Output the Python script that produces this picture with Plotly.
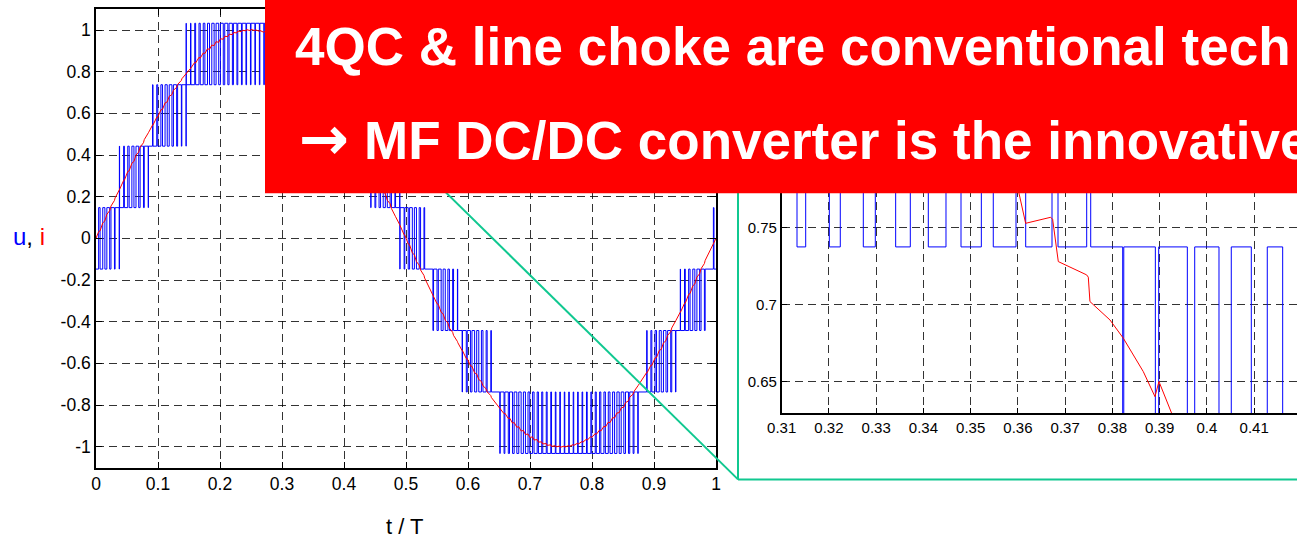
import plotly.graph_objects as go

W, H = 1297, 535

# Converter voltage levels (p.u.) and the switching instants of u(t).
levels = [-1.0325, -0.7375, -0.4425, -0.1475, 0.1475, 0.4425, 0.7375, 1.0325]

# switching instant t/T, level index after the switch, line current i at that instant
u_t = [
    0.0, 0.00424, 0.00660, 0.01087, 0.01433, 0.01750, 0.02206, 0.02414, 0.02978, 0.03077,
    0.03751, 0.03773, 0.03805, 0.04459, 0.04577, 0.05123, 0.05348, 0.05788, 0.06119, 0.06453,
    0.06889, 0.07119, 0.07658, 0.07786, 0.08426, 0.08454, 0.09123, 0.09193, 0.09793, 0.09959,
    0.10465, 0.10723, 0.11138, 0.11487, 0.11812, 0.12248, 0.12488, 0.13008, 0.13165, 0.13767,
    0.13844, 0.14524, 0.14543, 0.14561, 0.15243, 0.15314, 0.15926, 0.16066, 0.16611, 0.16815,
    0.17297, 0.17562, 0.17986, 0.18307, 0.18677, 0.19050, 0.19370, 0.19791, 0.20065, 0.20529,
    0.20763, 0.21265, 0.21463, 0.21999, 0.22165, 0.22730, 0.22870, 0.23459, 0.23577, 0.24186,
    0.24286, 0.24910, 0.24998, 0.25631, 0.25713, 0.26350, 0.26430, 0.27067, 0.27149, 0.27781,
    0.27871, 0.28493, 0.28595, 0.29202, 0.29322, 0.29909, 0.30051, 0.30613, 0.30783, 0.31324,
    0.31508, 0.32008, 0.32240, 0.32727, 0.32981, 0.33412, 0.33722, 0.34103, 0.34477, 0.34795,
    0.35225, 0.35478, 0.35959, 0.36164, 0.36721, 0.36848, 0.37455, 0.37540, 0.38217, 0.38240,
    0.38908, 0.38979, 0.39585, 0.39741, 0.40255, 0.40515, 0.40939, 0.41277, 0.41603, 0.42062,
    0.42310, 0.42827, 0.42981, 0.43593, 0.43651, 0.44320, 0.44360, 0.44988, 0.45128, 0.45655,
    0.45897, 0.46321, 0.46667, 0.46986, 0.47438, 0.47651, 0.48209, 0.48315, 0.48981, 0.49007,
    0.49035, 0.49697, 0.49808, 0.50360, 0.50581, 0.51023, 0.51354, 0.51686, 0.52126, 0.52350,
    0.52899, 0.53013, 0.54340, 0.54444, 0.55005, 0.55215, 0.55670, 0.55986, 0.56335, 0.56757,
    0.57002, 0.57526, 0.57669, 0.58295, 0.58341, 0.59055, 0.59111, 0.59725, 0.59877, 0.60395,
    0.60641, 0.61067, 0.61404, 0.61740, 0.62165, 0.62415, 0.62924, 0.63092, 0.63682, 0.63770,
    0.65131, 0.65193, 0.65815, 0.65946, 0.66500, 0.66696, 0.67187, 0.67445, 0.67877, 0.68191,
    0.68569, 0.68935, 0.69263, 0.69678, 0.69959, 0.70417, 0.70657, 0.71155, 0.71358, 0.71890,
    0.72061, 0.72623, 0.72767, 0.73354, 0.73474, 0.74082, 0.74185, 0.74807, 0.74898, 0.75530,
    0.75613, 0.76251, 0.76331, 0.76969, 0.77051, 0.77685, 0.77774, 0.78398, 0.78499, 0.79109,
    0.79227, 0.79817, 0.79957, 0.80523, 0.80689, 0.81227, 0.81424, 0.81928, 0.82161, 0.82627,
    0.82901, 0.83323, 0.83643, 0.84018, 0.84386, 0.84710, 0.85133, 0.85400, 0.85881, 0.86087,
    0.86631, 0.86773, 0.87383, 0.87457, 0.88819, 0.88893, 0.89497, 0.89651, 0.90174, 0.90410,
    0.90849, 0.91171, 0.91522, 0.91934, 0.92194, 0.92698, 0.92865, 0.93463, 0.93535, 0.94241,
    0.94279, 0.94921, 0.95047, 0.95589, 0.95817, 0.96255, 0.96587, 0.96921, 0.97358, 0.97586,
    0.98129, 0.98251, 0.99578, 0.99674, 1.0,
]
u_k = [
    3, 4, 3, 4, 3, 4, 3, 4, 3, 4,
    3, 5, 4, 5, 4, 5, 4, 5, 4, 5,
    4, 5, 4, 5, 4, 5, 6, 5, 6, 5,
    6, 5, 6, 5, 6, 5, 6, 5, 6, 5,
    6, 5, 7, 6, 7, 6, 7, 6, 7, 6,
    7, 6, 7, 6, 7, 6, 7, 6, 7, 6,
    7, 6, 7, 6, 7, 6, 7, 6, 7, 6,
    7, 6, 7, 6, 7, 6, 7, 6, 7, 6,
    7, 6, 7, 6, 7, 6, 7, 6, 7, 6,
    7, 6, 7, 6, 7, 6, 7, 6, 7, 6,
    7, 6, 7, 6, 7, 6, 7, 6, 5, 6,
    5, 6, 5, 6, 5, 6, 5, 6, 5, 6,
    5, 6, 5, 6, 5, 4, 5, 4, 5, 4,
    5, 4, 5, 4, 5, 4, 5, 4, 5, 3,
    4, 3, 4, 3, 4, 3, 4, 3, 4, 3,
    4, 3, 2, 3, 2, 3, 2, 3, 2, 3,
    2, 3, 2, 3, 2, 1, 2, 1, 2, 1,
    2, 1, 2, 1, 2, 1, 2, 1, 2, 1,
    0, 1, 0, 1, 0, 1, 0, 1, 0, 1,
    0, 1, 0, 1, 0, 1, 0, 1, 0, 1,
    0, 1, 0, 1, 0, 1, 0, 1, 0, 1,
    0, 1, 0, 1, 0, 1, 0, 1, 0, 1,
    0, 1, 0, 1, 0, 1, 0, 1, 0, 1,
    0, 1, 0, 1, 0, 1, 0, 1, 0, 1,
    0, 1, 0, 1, 2, 1, 2, 1, 2, 1,
    2, 1, 2, 1, 2, 1, 2, 1, 2, 3,
    2, 3, 2, 3, 2, 3, 2, 3, 2, 3,
    2, 3, 4, 3, 3,
]
i_main = [
    0.000, 0.032, 0.036, 0.074, 0.084, 0.115, 0.133, 0.155, 0.182, 0.194,
    0.232, 0.235, 0.235, 0.278, 0.279, 0.321, 0.324, 0.361, 0.369, 0.400,
    0.414, 0.438, 0.459, 0.474, 0.504, 0.507, 0.544, 0.544, 0.581, 0.582,
    0.617, 0.619, 0.650, 0.655, 0.682, 0.690, 0.711, 0.725, 0.739, 0.758,
    0.766, 0.790, 0.792, 0.791, 0.819, 0.818, 0.845, 0.842, 0.869, 0.865,
    0.890, 0.887, 0.910, 0.907, 0.928, 0.925, 0.944, 0.941, 0.958, 0.956,
    0.970, 0.968, 0.980, 0.978, 0.988, 0.986, 0.995, 0.992, 0.999, 0.996,
    1.002, 0.997, 1.003, 0.997, 1.001, 0.994, 0.998, 0.989, 0.993, 0.982,
    0.986, 0.973, 0.978, 0.962, 0.967, 0.949, 0.954, 0.934, 0.939, 0.917,
    0.922, 0.899, 0.904, 0.879, 0.882, 0.858, 0.859, 0.835, 0.834, 0.811,
    0.806, 0.786, 0.777, 0.760, 0.745, 0.733, 0.712, 0.704, 0.675, 0.675,
    0.640, 0.642, 0.605, 0.606, 0.570, 0.567, 0.534, 0.527, 0.497, 0.484,
    0.459, 0.440, 0.423, 0.394, 0.387, 0.348, 0.348, 0.306, 0.305, 0.264,
    0.260, 0.223, 0.214, 0.183, 0.166, 0.143, 0.116, 0.104, 0.066, 0.062,
    0.062, 0.017, 0.016, -0.027, -0.031, -0.070, -0.079, -0.112, -0.128, -0.152,
    -0.178, -0.191, -0.272, -0.273, -0.314, -0.317, -0.355, -0.362, -0.393, -0.406,
    -0.431, -0.451, -0.466, -0.495, -0.500, -0.539, -0.539, -0.577, -0.577, -0.612,
    -0.614, -0.646, -0.651, -0.678, -0.687, -0.708, -0.722, -0.737, -0.755, -0.764,
    -0.816, -0.814, -0.842, -0.839, -0.865, -0.862, -0.887, -0.884, -0.907, -0.904,
    -0.925, -0.922, -0.942, -0.939, -0.956, -0.953, -0.968, -0.966, -0.978, -0.977,
    -0.987, -0.985, -0.994, -0.991, -0.999, -0.995, -1.001, -0.997, -1.003, -0.997,
    -1.002, -0.995, -0.999, -0.990, -0.994, -0.983, -0.988, -0.975, -0.979, -0.964,
    -0.969, -0.951, -0.956, -0.937, -0.941, -0.920, -0.925, -0.902, -0.906, -0.882,
    -0.885, -0.861, -0.862, -0.838, -0.837, -0.814, -0.810, -0.789, -0.780, -0.762,
    -0.748, -0.735, -0.714, -0.706, -0.644, -0.645, -0.609, -0.610, -0.574, -0.572,
    -0.538, -0.533, -0.502, -0.491, -0.466, -0.448, -0.430, -0.403, -0.394, -0.354,
    -0.354, -0.312, -0.311, -0.269, -0.265, -0.228, -0.219, -0.186, -0.170, -0.146,
    -0.121, -0.106, -0.024, -0.023, 0.000,
]

# Line current in the zoomed window (t/T, i)
iz_t = [0.34477, 0.34795, 0.35225, 0.35478, 0.35959, 0.36163, 0.36692, 0.36734, 0.36854,
        0.37453, 0.37489, 0.37524, 0.37947, 0.38229, 0.38653, 0.38900, 0.38984, 0.39252,
        0.39585, 0.39741, 0.40255, 0.40515, 0.40939, 0.41277, 0.41603]
iz_v = [0.848, 0.798, 0.820, 0.774, 0.781, 0.7528, 0.7567, 0.7554, 0.7280,
        0.7194, 0.7179, 0.7021, 0.6902, 0.6784, 0.6567, 0.6405, 0.6503, 0.6298,
        0.596, 0.615, 0.557, 0.579, 0.519, 0.540, 0.482]

x_ticks = [0, 0.1, 0.2, 0.3, 0.4, 0.5, 0.6, 0.7, 0.8, 0.9, 1]
x_labels = ["0", "0.1", "0.2", "0.3", "0.4", "0.5", "0.6", "0.7", "0.8", "0.9", "1"]
y_ticks = [-1, -0.8, -0.6, -0.4, -0.2, 0, 0.2, 0.4, 0.6, 0.8, 1]
y_labels = ["-1", "-0.8", "-0.6", "-0.4", "-0.2", "0", "0.2", "0.4", "0.6", "0.8", "1"]
zx_ticks = [0.31, 0.32, 0.33, 0.34, 0.35, 0.36, 0.37, 0.38, 0.39, 0.40, 0.41]
zx_labels = ["0.31", "0.32", "0.33", "0.34", "0.35", "0.36", "0.37", "0.38", "0.39", "0.4", "0.41"]
zy_ticks = [0.65, 0.70, 0.75, 0.80]
zy_labels = ["0.65", "0.7", "0.75", "0.8"]

title_lines = ["4QC & line choke are conventional tech",
               "<span style='font-family:DejaVu Sans;font-size:60px'>\u2192</span>"
               " MF DC/DC converter is the innovative"]

u_v = [levels[k] for k in u_k]

FONT = "Liberation Sans, Arial, sans-serif"
BLUE = "#0000ff"
RED = "#ff0000"
GREEN = "#10c890"


def px(x):
    return x / W


def py(y):
    return 1 - y / H


fig = go.Figure()

# main axes: converter voltage u and line current i over one period
fig.add_trace(go.Scatter(x=u_t, y=u_v, mode="lines", line=dict(color=BLUE, width=1, shape="hv"),
                         xaxis="x", yaxis="y", hoverinfo="skip"))
fig.add_trace(go.Scatter(x=u_t, y=i_main, mode="lines", line=dict(color=RED, width=1),
                         xaxis="x", yaxis="y", hoverinfo="skip"))
# zoomed axes
fig.add_trace(go.Scatter(x=u_t, y=u_v, mode="lines", line=dict(color=BLUE, width=1, shape="hv"),
                         xaxis="x2", yaxis="y2", hoverinfo="skip"))
fig.add_trace(go.Scatter(x=iz_t, y=iz_v, mode="lines", line=dict(color=RED, width=1),
                         xaxis="x2", yaxis="y2", hoverinfo="skip"))

grid = dict(showgrid=True, gridcolor="rgba(0,0,0,0.8)", gridwidth=1, griddash="8px,5px",
            zeroline=False, showline=True, linecolor="black", linewidth=1.5, automargin=False,
            ticks="inside", ticklen=6, tickwidth=1, tickcolor="black")

fig.update_layout(
    width=W, height=H, autosize=False,
    margin=dict(l=0, r=0, t=0, b=0, pad=0),
    paper_bgcolor="white", plot_bgcolor="white",
    showlegend=False, hovermode=False,
    font=dict(family=FONT, color="black"),
    xaxis=dict(domain=[px(96), px(716)], range=[0, 1], anchor="y", mirror="allticks",
               tickvals=x_ticks, ticktext=x_labels, tickfont=dict(size=17.5), **grid),
    yaxis=dict(domain=[py(467.5), py(9.2)], range=[-1.1, 1.1], anchor="x", mirror="allticks",
               tickvals=y_ticks, ticktext=y_labels, tickfont=dict(size=17.5), **grid),
    xaxis2=dict(domain=[px(781.7), 1], range=[0.31, 0.41906], anchor="y2", mirror=False,
                tickvals=zx_ticks, ticktext=zx_labels, tickfont=dict(size=15), **grid),
    yaxis2=dict(domain=[py(413.3), py(150)], range=[0.6297, 0.8003], anchor="x2", mirror=False,
                tickvals=zy_ticks, ticktext=zy_labels, tickfont=dict(size=15), **grid),
)

shapes = [
    # zoom frame and connector
    dict(type="line", xref="paper", yref="paper", x0=px(400), y0=py(147.4), x1=px(738), y1=py(479.4),
         line=dict(color=GREEN, width=2), layer="above"),
    dict(type="line", xref="paper", yref="paper", x0=px(738), y0=py(479.4), x1=px(1310), y1=py(479.4),
         line=dict(color=GREEN, width=2), layer="above"),
    dict(type="line", xref="paper", yref="paper", x0=px(738), y0=py(479.4), x1=px(738), y1=py(120),
         line=dict(color=GREEN, width=2), layer="above"),
    # headline banner
    dict(type="rect", xref="paper", yref="paper", x0=px(265), y0=py(193.3), x1=px(1320), y1=py(-10),
         fillcolor=RED, line=dict(width=0), layer="above"),
]
fig.update_layout(shapes=shapes)

annotations = [
    dict(text=title_lines[0], x=px(293), y=py(65 - 0.3465 * 53), xanchor="left", yanchor="middle"),
    dict(text=title_lines[1], x=px(297), y=py(156 - 0.3465 * 53), xanchor="left", yanchor="middle"),
]
for a in annotations:
    a.update(xref="paper", yref="paper", showarrow=False,
             font=dict(family=FONT, size=53, color="white", weight="bold"))

annotations.append(dict(
    text="<span style='color:#0000ff'>u</span>, <span style='color:#ff0000'>i</span>",
    x=px(11), y=py(245 - 0.3465 * 24), xref="paper", yref="paper", xanchor="left", yanchor="middle",
    showarrow=False, font=dict(family=FONT, size=24, color="black")))
annotations.append(dict(
    text="t / T", x=px(405), y=py(534 - 0.3465 * 22), xref="paper", yref="paper",
    xanchor="center", yanchor="middle", showarrow=False,
    font=dict(family=FONT, size=22, color="black")))
fig.update_layout(annotations=annotations)

fig.write_html("out.html", config={"displayModeBar": False})
